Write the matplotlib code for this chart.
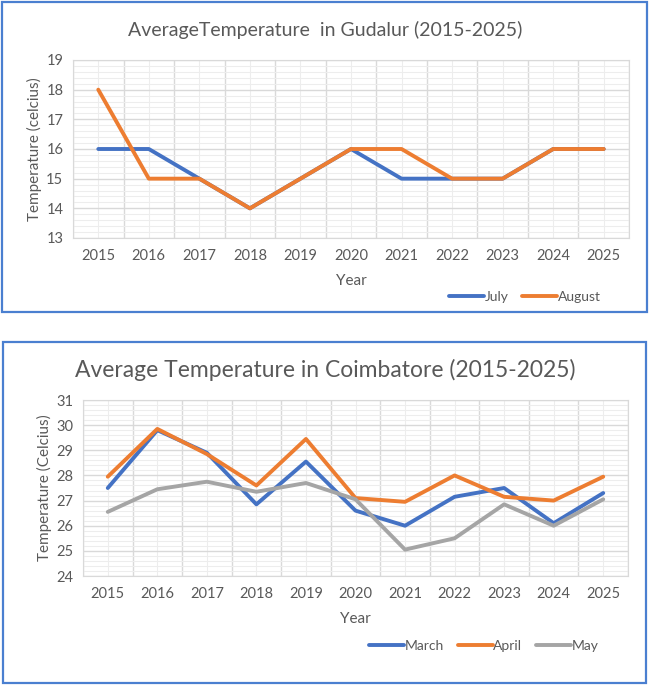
import numpy as np
import matplotlib.pyplot as plt
from matplotlib.patches import Rectangle
from matplotlib.ticker import MultipleLocator

plt.rcParams['font.family'] = ['Lato', 'DejaVu Sans']

years = ["2015", "2016", "2017", "2018", "2019", "2020",
         "2021", "2022", "2023", "2024", "2025"]

# Gudalur
july = [16, 16, 15, 14, 15, 16, 15, 15, 15, 16, 16]
august = [18, 15, 15, 14, 15, 16, 16, 15, 15, 16, 16]

# Coimbatore
march = [27.5, 29.8, 28.9, 26.85, 28.55, 26.6, 26.0, 27.15, 27.5, 26.1, 27.3]
april = [27.95, 29.85, 28.85, 27.6, 29.45, 27.1, 26.95, 28.0, 27.15, 27.0, 27.95]
may = [26.55, 27.45, 27.75, 27.35, 27.7, 27.05, 25.05, 25.5, 26.85, 26.0, 27.05]

BLUE = "#4472C4"
ORANGE = "#ED7D31"
GREY = "#A5A5A5"
TEXT = "#595959"

W, H = 649, 685
fig = plt.figure(figsize=(W / 100, H / 100), dpi=100)


def px_box(x0, y0, x1, y1):
    # pixel box (top-left origin) -> figure fraction rect
    return [x0 / W, 1 - y1 / H, (x1 - x0) / W, (y1 - y0) / H]


# panel frames
for x0, y0, x1, y1 in [(2, 2, 647, 312), (3, 342, 646, 683)]:
    r = px_box(x0, y0, x1, y1)
    fig.patches.append(Rectangle((r[0], r[1]), r[2], r[3], transform=fig.transFigure,
                                 fill=False, edgecolor="#4A7FD0", linewidth=1.6))


def draw_panel(box, series, ylo, yhi, title, ylabel, title_y, title_size, legend_x, legend_y):
    ax = fig.add_axes(px_box(*box))
    x = np.arange(len(years))
    for vals, name, col in series:
        ax.plot(x, vals, color=col, linewidth=2.8, label=name, solid_capstyle="round")
    ax.set_xlim(-0.5, len(years) - 0.5)
    ax.set_ylim(ylo, yhi)
    ax.set_xticks(x)
    ax.set_xticklabels(years)
    ax.set_xticks(np.arange(-0.5, len(years), 1.0), minor=True)
    ax.yaxis.set_major_locator(MultipleLocator(1))
    ax.yaxis.set_minor_locator(MultipleLocator(0.2))
    ax.grid(which="minor", color="#EDEDED", linewidth=0.8)
    ax.grid(which="major", color="#EDEDED", linewidth=0.8)
    ax.grid(which="minor", axis="x", color="#D9D9D9", linewidth=1.0)
    ax.grid(which="major", axis="y", color="#D9D9D9", linewidth=1.0)
    ax.set_axisbelow(True)
    for s in ax.spines.values():
        s.set_color("#D9D9D9")
    ax.tick_params(which="both", length=0, colors=TEXT, labelsize=10.5)
    ax.tick_params(axis="x", pad=8)
    ax.tick_params(axis="y", pad=7)
    ax.set_xlabel("Year", color=TEXT, fontsize=11, labelpad=8)
    ax.set_ylabel(ylabel, color=TEXT, fontsize=11, labelpad=3)
    fig.text(325 / W, 1 - title_y / H, title, ha="center", va="center",
             color=TEXT, fontsize=title_size)
    fig.legend(*ax.get_legend_handles_labels(), loc="center",
               bbox_to_anchor=(legend_x / W, 1 - legend_y / H), ncol=len(series),
               frameon=False, fontsize=10, handlelength=2.5, handletextpad=0.05,
               columnspacing=1.0, labelcolor=TEXT)
    return ax


draw_panel((73, 60, 629, 238),
           [(july, "July", BLUE), (august, "August", ORANGE)],
           13, 19, "AverageTemperature  in Gudalur (2015-2025)",
           "Temperature (celcius)", 30, 14, 525, 297)

draw_panel((83, 400, 628, 576),
           [(march, "March", BLUE), (april, "April", ORANGE), (may, "May", GREY)],
           24, 31, "Average Temperature in Coimbatore (2015-2025)",
           "Temperature (Celcius)", 370, 16.5, 484, 646)

fig.savefig("out.png", dpi=100)
